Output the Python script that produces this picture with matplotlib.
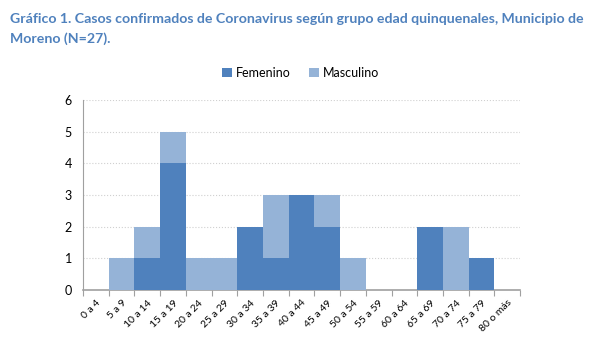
import numpy as np
import matplotlib
matplotlib.use("Agg")
import matplotlib.pyplot as plt

grupos = ['0 a 4', '5 a 9', '10 a 14', '15 a 19', '20 a 24', '25 a 29', '30 a 34',
          '35 a 39', '40 a 44', '45 a 49', '50 a 54', '55 a 59', '60 a 64',
          '65 a 69', '70 a 74', '75 a 79', '80 o más']
femenino = [0, 0, 1, 4, 0, 0, 2, 1, 3, 2, 0, 0, 0, 2, 0, 1, 0]
masculino = [0, 1, 1, 1, 1, 1, 0, 2, 0, 1, 1, 0, 0, 0, 2, 0, 0]

plt.rcParams['font.family'] = ['Lato', 'DejaVu Sans']

fig = plt.figure(figsize=(5.89, 3.38), dpi=100)
ax = fig.add_axes([0.141, 0.142, 0.742, 0.562])

x = np.arange(len(grupos))
ax.bar(x, femenino, width=1.0, color='#4F81BD', label='Femenino', zorder=3)
ax.bar(x, masculino, width=1.0, bottom=femenino, color='#95B3D7', label='Masculino', zorder=3)

ax.set_xlim(-0.5, len(grupos) - 0.5)
ax.set_ylim(0, 6)
ax.set_yticks(range(7))
ax.tick_params(axis='y', length=0, labelsize=9, pad=8)
ax.yaxis.grid(True, color='#d0d0d0', linestyle=':', linewidth=0.8, zorder=0)

# ticks entre categorias, etiquetas al centro
ax.set_xticks(np.arange(len(grupos) + 1) - 0.5, minor=False)
ax.set_xticklabels([])
ax.set_xticks(x, minor=True)
ax.set_xticklabels(grupos, minor=True, rotation=45, ha='right', rotation_mode='anchor', fontsize=7.5)
ax.tick_params(axis='x', which='major', length=4, color='#a0a0a0')
ax.tick_params(axis='x', which='minor', length=0, pad=6)

for s in ['top', 'right']:
    ax.spines[s].set_visible(False)
ax.spines['left'].set_color('#a0a0a0')
ax.spines['bottom'].set_color('#a0a0a0')
ax.spines['bottom'].set_linewidth(1.2)

fig.legend(loc='center', bbox_to_anchor=(0.51, 0.785), ncol=2, frameon=False, fontsize=9,
           handlelength=0.8, handleheight=0.8, handletextpad=0.3, columnspacing=1.5)

fig.text(0.017, 0.945, 'Gráfico 1. Casos confirmados de Coronavirus según grupo edad quinquenales, Municipio de',
         color='#4F81BD', fontsize=10.2, fontweight='bold', va='center')
fig.text(0.017, 0.885, 'Moreno (N=27).', color='#4F81BD', fontsize=10.2, fontweight='bold', va='center')

fig.savefig('out.png', dpi=100)
